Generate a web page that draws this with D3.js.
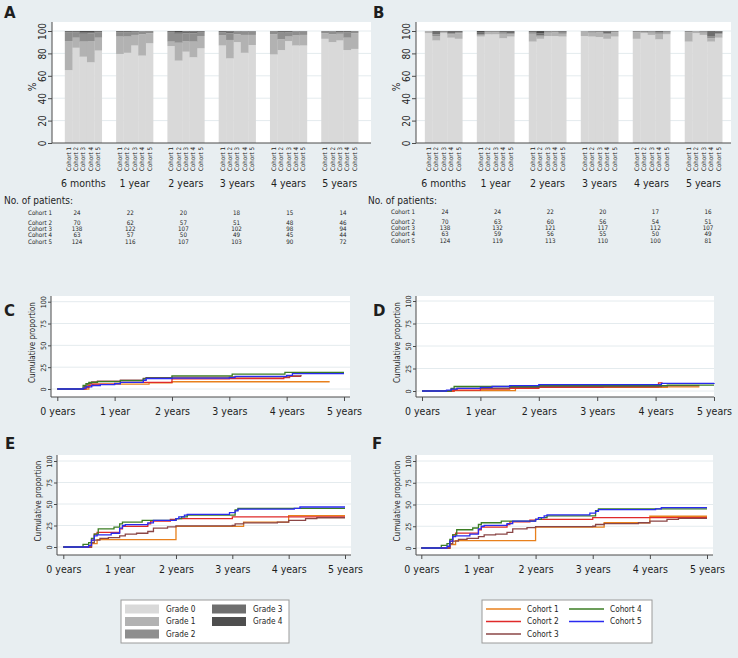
<!DOCTYPE html>
<html><head><meta charset="utf-8">
<script src="https://cdn.jsdelivr.net/npm/d3@7"></script>
<style>
html,body{margin:0;padding:0;background:#e8eef1;}
svg{display:block;}
text{font-family:"DejaVu Sans Condensed","DejaVu Sans",sans-serif;fill:#1e1e1e;}
</style></head><body>
<svg id="chart" width="738" height="658"></svg>
<script>
// ---------------- DATA ----------------
const cohorts = ["Cohort 1","Cohort 2","Cohort 3","Cohort 4","Cohort 5"];
const timepoints = ["6 months","1 year","2 years","3 years","4 years","5 years"];
const grades = ["Grade 0","Grade 1","Grade 2","Grade 3","Grade 4"];
const gradeColors = ["#d9d9d9","#b2b2b2","#8e8e8e","#6e6e6e","#4e4e4e"];

// Panel A: % per grade, rows = timepoint, cols = cohort
const aGrade0 = [[65,85,77,72,82.5],[79.5,80.5,87,78,89],[86.5,73.5,81.5,76.5,84.5],[87,75.5,90,80.5,87.5],[79,83,91,87,87],[93,90,91.5,83,84]];
const aGrade1 = [[26,9,13.5,19,11.5],[15.5,14.5,9.5,19,9],[4,16,9.5,14,11],[9,16.5,7,16,9],[18,9.5,4,9,9.5],[5,7,6,11,14]];
const aGrade2 = [[8,5,7,7,5],[4,4,2.5,2.5,2],[8,8,7,7.5,3],[3,6,2.5,3,3],[3,6,4,3.5,3],[2,2.5,1.5,5,2]];
const aGrade3 = [[1,1,1.5,1,1],[1,1,0.5,0.5,0],[1.5,1.5,1.5,1.5,1],[1,1.5,0.5,0.5,0.5],[0,1.5,1,0.5,0.5],[0,0.5,1,1,0]];
const aGrade4 = [[0,0,1,1,0],[0,0,0.5,0,0],[0,1,0.5,0.5,0.5],[0,0.5,0,0,0],[0,0,0,0,0],[0,0,0,0,0]];

// Panel B
const bGrade0 = [[98,91.5,98,94,93],[95,97,97,93.5,95],[90.5,93,95.5,95.5,95],[95.5,95,94.5,93,95],[93,98,96.5,92.5,97],[90.5,98,96.5,90.5,94]];
const bGrade1 = [[2,4,1,3,5],[1,2,2,4,2],[7,2,3,3.5,2.5],[4,3.5,4.5,4,4],[6,1,2,5,1.5],[8.5,1.5,2,3,3]];
const bGrade2 = [[0,1.5,1,1,1],[1,1,1,1.5,1],[1.5,1,1.5,1,1],[0.5,1,1,1,1],[1,1,1,1.5,1],[1,0.5,1,2,1]];
const bGrade3 = [[0,3,0,2,1],[2,0,0,1,2],[1,2,0,0,1],[0,0.5,0,1.5,0],[0,0,0.5,1,0.5],[0,0,0.5,4.5,1.5]];
const bGrade4 = [[0,0,0,0,0],[1,0,0,0,0],[0,2,0,0,0.5],[0,0,0,0.5,0],[0,0,0,0,0],[0,0,0,0,0.5]];

// No. of patients
const aPatients = [[24,22,20,18,15,14],[70,62,57,51,48,46],[138,122,107,102,98,94],[63,57,50,49,45,44],[124,116,107,103,90,72]];
const bPatients = [[24,24,22,20,17,16],[70,63,60,56,54,51],[138,132,121,117,112,107],[63,59,56,55,50,49],[124,119,113,110,100,81]];

// Cumulative proportion curves: [years, %]
const cohortColors = ["#e8801c","#e02a2a","#8b4646","#3b7d23","#2a2af0"];
const xYears = [0,1,2,3,4,5];
const xYearLabels = ["0 years","1 year","2 years","3 years","4 years","5 years"];
const yCumTicks = [0,25,50,75,100];

const cCohort1 = [[0,0],[0.55,4.2],[0.62,5.5],[1.6,7],[2.0,8.3],[4.75,8.3]];
const cCohort2 = [[0,0],[0.5,2],[0.55,4],[0.62,5.5],[1.0,6.5],[1.1,7.5],[1.5,7.7],[2.0,11.5],[3.0,12],[3.95,13],[4.05,14.5],[4.25,14.5]];
const cCohort3 = [[0,0],[0.47,3],[0.52,6],[0.6,8],[0.7,9],[1.1,10],[1.5,12],[1.55,13],[2.0,13.5],[3.0,14],[4.05,15],[4.25,16]];
const cCohort4 = [[0,0],[0.45,4],[0.5,6],[0.55,7.5],[0.7,8.5],[1.1,9.5],[1.5,11.5],[1.55,12.5],[2.0,15],[3.05,17],[3.97,19],[5.0,19]];
const cCohort5 = [[0,0],[0.45,1],[0.5,2.5],[0.6,4],[0.75,5],[1.0,6],[1.1,7.5],[1.5,10],[1.55,12],[2.0,12.5],[3.0,13],[3.1,14.5],[4.0,15.5],[4.1,17.5],[5.0,17.5]];

const dCohort1 = [[0,0],[0.55,0.5],[1.6,3.5],[2.0,4],[4.2,4.5],[4.75,4.5]];
const dCohort2 = [[0,0],[0.55,1],[1.0,2],[1.5,3],[2.0,4],[3.1,4.5],[4.05,9],[4.12,9]];
const dCohort3 = [[0,0],[0.5,2],[0.6,3],[1.5,4],[2.0,5],[4.1,5.5],[4.2,6],[4.75,6]];
const dCohort4 = [[0,0],[0.5,3],[0.55,5],[2.0,6],[4.2,6.5],[5.0,6.5]];
const dCohort5 = [[0,0],[0.42,1],[0.5,2],[0.6,3],[1.0,4],[1.2,5],[1.5,6],[2.0,7],[4.1,8.5],[5.0,9]];

const eCohort1 = [[0,0],[0.5,4],[0.6,8.5],[2.0,24],[3.2,29],[4.0,36.5],[5.0,36.5]];
const eCohort2 = [[0,0],[0.5,8],[0.55,15],[0.6,17],[1.0,21],[1.05,24],[1.5,27],[1.55,30],[1.9,32],[2.0,33],[3.0,35],[5.0,35]];
const eCohort3 = [[0,0],[0.5,5],[0.55,8],[0.65,10],[0.8,11],[1.0,13],[1.1,15],[1.3,16],[1.5,18],[1.6,22],[1.85,23.5],[2.0,24.5],[3.0,25],[3.05,27],[3.2,28],[3.8,29],[4.0,31],[4.3,33],[4.5,34],[5.0,34]];
const eCohort4 = [[0,0],[0.35,3],[0.45,5],[0.5,10],[0.55,15],[0.62,21],[0.9,23],[1.0,27],[1.05,29],[1.4,31],[2.0,33],[2.1,35],[2.2,37],[3.05,43],[3.1,45],[5.0,45]];
const eCohort5 = [[0,0],[0.45,2],[0.5,8],[0.55,13],[0.6,14],[0.85,16],[1.0,22],[1.05,25],[1.1,26],[1.5,28],[1.6,31],[2.0,33],[2.05,35],[2.15,37],[2.2,38],[2.95,40],[3.05,42],[3.1,44],[4.1,45],[4.2,46.5],[5.0,46.5]];

const fCohort1 = [[0,0],[0.5,4],[0.6,8.5],[2.0,24],[3.2,29],[4.0,36.5],[5.0,36.5]];
const fCohort2 = [[0,0],[0.5,8],[0.55,15],[0.6,17],[1.0,21],[1.05,24],[1.5,27],[1.55,30],[1.9,32],[2.0,33],[3.0,35],[5.0,35]];
const fCohort3 = [[0,0],[0.5,5],[0.55,8],[0.65,10],[0.8,11],[1.0,13],[1.1,15],[1.3,16],[1.5,18],[1.6,22],[1.85,23.5],[2.0,24.5],[3.0,25],[3.05,27],[3.2,28],[3.8,29],[4.0,31],[4.3,33],[4.5,34],[5.0,34]];
const fCohort4 = [[0,0],[0.35,3],[0.45,5],[0.5,10],[0.55,15],[0.62,21],[0.9,23],[1.0,27],[1.05,29],[1.4,31],[2.0,33],[2.1,35],[2.2,37],[3.05,43],[3.1,45],[5.0,45]];
const fCohort5 = [[0,0],[0.45,2],[0.5,8],[0.55,13],[0.6,14],[0.85,16],[1.0,22],[1.05,25],[1.1,26],[1.5,28],[1.6,31],[2.0,33],[2.05,35],[2.15,37],[2.2,38],[2.95,40],[3.05,42],[3.1,44],[4.1,45],[4.2,46.5],[5.0,46.5]];

// ---------------- DRAWING ----------------
const BG = "#e8eef1", AXIS = "#4a4a4a", GRID = "#e4ebee";
const svg = d3.select("#chart");
svg.append("rect").attr("width",738).attr("height",658).attr("fill",BG);

function panelLabel(t,x,y){
  svg.append("text").attr("x",x).attr("y",y).text(t)
    .style("font-family","'DejaVu Sans',sans-serif").style("font-weight","bold").style("font-size","15px");
}

function yAxisRotated(g, y, ticks, x, size, fontSize, off){
  const ax = d3.axisLeft(y).tickValues(ticks).tickSize(size).tickSizeOuter(0);
  const a = g.append("g").attr("transform",`translate(${x},0)`).call(ax);
  a.select(".domain").remove();
  a.selectAll("line").attr("stroke",AXIS);
  a.selectAll("text").attr("x",null).attr("dy",null)
    .attr("transform",`translate(${-off},0) rotate(-90)`)
    .attr("text-anchor","middle").attr("dy","0.35em")
    .style("font-size",fontSize+"px").attr("fill","#1e1e1e")
    .style("font-family","'DejaVu Sans Condensed',sans-serif");
  return a;
}

function barPanel(o){
  const g = svg.append("g");
  const x0 = d3.scaleBand().domain(timepoints).range([o.x0,o.x1]).paddingInner(0.28).paddingOuter(o.po);
  const x1 = d3.scaleBand().domain(cohorts).range([0,x0.bandwidth()]);
  const y = d3.scaleLinear().domain([0,100]).range([o.yb,o.yt]);
  g.append("rect").attr("x",o.axisX).attr("y",o.top).attr("width",o.x1-o.axisX).attr("height",o.yb-o.top).attr("fill","#fff");
  g.selectAll(".grid").data([20,40,60,80,100]).join("line")
    .attr("x1",o.axisX).attr("x2",o.x1).attr("y1",d=>y(d)).attr("y2",d=>y(d))
    .attr("stroke",GRID).attr("stroke-width",1);
  const rows = [];
  timepoints.forEach((tp,ti)=>cohorts.forEach((c,ci)=>{
    const r = {tp, c};
    grades.forEach((gr,gi)=>{ r[gr] = o.data[gi][ti][ci]; });
    rows.push(r);
  }));
  const series = d3.stack().keys(grades)(rows);
  series.forEach((s,si)=>{
    g.append("g").selectAll("rect").data(s).join("rect")
      .attr("x",d=>x0(d.data.tp)+x1(d.data.c))
      .attr("width",x1.bandwidth()+0.3)
      .attr("y",d=>y(d[1]))
      .attr("height",d=>Math.max(0,y(d[0])-y(d[1])))
      .attr("fill",gradeColors[si]);
  });
  // axes
  g.append("line").attr("x1",o.axisX).attr("x2",o.axisX).attr("y1",o.top).attr("y2",o.yb).attr("stroke",AXIS);
  g.append("line").attr("x1",o.axisX).attr("x2",o.x1).attr("y1",o.yb).attr("y2",o.yb).attr("stroke",AXIS);
  yAxisRotated(g,y,[0,20,40,60,80,100],o.axisX,4,10,10);
  g.append("text").attr("transform",`translate(${o.axisX-20},${(o.yt+o.yb)/2}) rotate(-90)`)
    .attr("text-anchor","middle").attr("dy","0.35em").style("font-size","10px").text("%");
  // cohort labels under bars
  timepoints.forEach(tp=>{
    g.append("g").selectAll("text").data(cohorts).join("text")
      .attr("transform",c=>`translate(${x0(tp)+x1(c)+x1.bandwidth()/2},${o.yb+4}) rotate(-90)`)
      .attr("text-anchor","end").attr("dy","0.35em").style("font-size","6.2px").text(d=>d);
  });
  g.selectAll(".grp").data(timepoints).join("text")
    .attr("x",d=>x0(d)+x0.bandwidth()/2).attr("y",o.yb+44)
    .attr("text-anchor","middle").style("font-size","10.5px").text(d=>d);
  return {x0};
}

barPanel({x0:52,x1:371,po:0.25,axisX:52,top:22,yb:143,yt:31,
  data:[aGrade0,aGrade1,aGrade2,aGrade3,aGrade4]});
barPanel({x0:416,x1:731,po:0.17,axisX:416,top:22,yb:143,yt:31,
  data:[bGrade0,bGrade1,bGrade2,bGrade3,bGrade4]});
panelLabel("A",4,18);
panelLabel("B",373,18);

function patientsTable(o){
  const g = svg.append("g");
  g.append("text").attr("x",o.hx).attr("y",203.5).style("font-size","10px").text("No. of patients:");
  const xc = d3.scalePoint().domain(timepoints).range([o.c0,o.c1]);
  const rowY = d3.scaleOrdinal().domain(cohorts).range(o.rows);
  cohorts.forEach((c,ci)=>{
    g.append("text").attr("x",o.lx).attr("y",rowY(c)).style("font-size","6.2px").text(c);
    g.append("g").selectAll("text").data(o.data[ci]).join("text")
      .attr("x",(d,i)=>xc(timepoints[i])).attr("y",rowY(c))
      .attr("text-anchor","middle").style("font-size","6.2px").text(d=>d);
  });
}
patientsTable({hx:4,lx:28,c0:77,c1:343,rows:[215,224.5,230.5,236.5,244],data:aPatients});
patientsTable({hx:368,lx:391,c0:445,c1:708,rows:[214,223.5,229.5,235.5,242.5],data:bPatients});

function cumPanel(o){
  const g = svg.append("g");
  const x = d3.scaleLinear().domain([0,5]).range([o.xa,o.xb]);
  const y = d3.scaleLinear().domain([0,100]).range([o.y0,o.y100]);
  g.append("rect").attr("x",o.left).attr("y",o.top).attr("width",o.right-o.left).attr("height",o.bottom-o.top).attr("fill","#fff");
  g.selectAll(".grid").data(yCumTicks).join("line")
    .attr("x1",o.left).attr("x2",o.right).attr("y1",d=>y(d)).attr("y2",d=>y(d))
    .attr("stroke",GRID).attr("stroke-width",1);
  const line = d3.line().x(d=>x(d[0])).y(d=>y(d[1])).curve(d3.curveStepAfter);
  o.series.forEach((s,i)=>{
    g.append("path").datum(s).attr("d",line).attr("fill","none")
      .attr("stroke",cohortColors[i]).attr("stroke-width",1.3);
  });
  g.append("line").attr("x1",o.left).attr("x2",o.left).attr("y1",o.top).attr("y2",o.bottom).attr("stroke",AXIS);
  g.append("line").attr("x1",o.left).attr("x2",o.right).attr("y1",o.bottom).attr("y2",o.bottom).attr("stroke",AXIS);
  yAxisRotated(g,y,yCumTicks,o.left,3,7.2,8);
  const xa = g.append("g").attr("transform",`translate(0,${o.bottom})`)
    .call(d3.axisBottom(x).tickValues(xYears).tickSize(4).tickFormat((d,i)=>xYearLabels[i]));
  xa.select(".domain").remove();
  xa.selectAll("line").attr("stroke",AXIS);
  xa.selectAll("text").attr("y",11).style("font-size","10.5px").attr("fill","#1e1e1e")
    .style("font-family","'DejaVu Sans Condensed',sans-serif");
  g.append("text").attr("transform",`translate(${o.left-19},${(o.top+o.bottom)/2-4}) rotate(-90)`)
    .attr("text-anchor","middle").attr("dy","0.35em").style("font-size","8px").text("Cumulative proportion");
}
cumPanel({left:51,right:350,top:296,bottom:397,xa:57.3,xb:344,y0:389,y100:301.7,
  series:[cCohort1,cCohort2,cCohort3,cCohort4,cCohort5]});
cumPanel({left:416,right:714,top:296,bottom:397,xa:422,xb:714,y0:391,y100:301,
  series:[dCohort1,dCohort2,dCohort3,dCohort4,dCohort5]});
cumPanel({left:57,right:351,top:455,bottom:555,xa:63.3,xb:345,y0:547,y100:461,
  series:[eCohort1,eCohort2,eCohort3,eCohort4,eCohort5]});
cumPanel({left:416,right:713,top:455,bottom:555,xa:421.3,xb:707,y0:548,y100:461,
  series:[fCohort1,fCohort2,fCohort3,fCohort4,fCohort5]});
panelLabel("C",4,316);
panelLabel("D",373,316);
panelLabel("E",5,449);
panelLabel("F",372,449);

// Legends
function legend(o){
  const g = svg.append("g");
  g.append("rect").attr("x",o.x).attr("y",600).attr("width",o.w).attr("height",43)
    .attr("fill","#fff").attr("stroke","#9a9a9a").attr("stroke-width",1);
  const rowY = [609,621.5,634];
  o.items.forEach((it,i)=>{
    const col = i<3?0:1, row = i<3?i:i-3;
    const sx = o.x + 4 + col*o.colW;
    if(o.type==="swatch"){
      g.append("rect").attr("x",sx).attr("y",rowY[row]-4.5).attr("width",34).attr("height",9).attr("fill",o.colors[i]);
    } else {
      g.append("line").attr("x1",sx).attr("x2",sx+35).attr("y1",rowY[row]).attr("y2",rowY[row])
        .attr("stroke",o.colors[i]).attr("stroke-width",1.3);
    }
    g.append("text").attr("x",sx+o.tx).attr("y",rowY[row]).attr("dy","0.35em").style("font-size","8.2px").text(it);
  });
}
legend({x:121,w:168,colW:87,tx:41,type:"swatch",items:grades,colors:gradeColors});
legend({x:482,w:170,colW:83,tx:41,type:"line",items:cohorts,colors:cohortColors});
</script>
</body></html>
